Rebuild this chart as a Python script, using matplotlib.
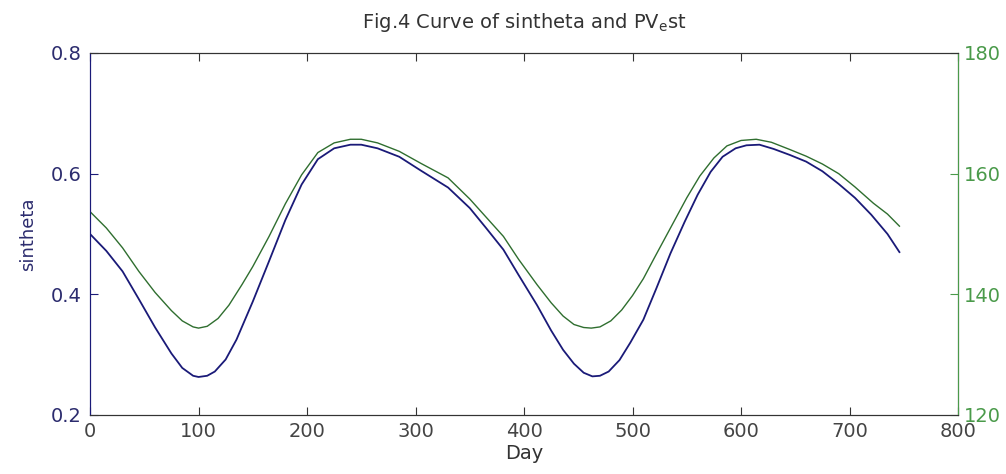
import numpy as np
import matplotlib.pyplot as plt

plt.rcParams['font.family'] = ['DejaVu Sans']

# blue curve, left axis (sintheta)
days_sin = [0, 15, 30, 45, 60, 75, 85, 95, 100, 108, 115, 125, 135, 150, 165,
            180, 195, 210, 225, 240, 250, 265, 285, 305, 330, 350, 365, 381, 395,
            412, 425, 436, 446, 455, 463, 470, 478, 488, 498, 510, 522, 535, 548,
            560, 572, 583, 595, 605, 617, 630, 645, 660, 675, 690, 705, 720, 735,
            746]
sintheta = [0.500, 0.472, 0.438, 0.392, 0.345, 0.302, 0.278, 0.265, 0.263, 0.265,
            0.272, 0.292, 0.325, 0.388, 0.455, 0.523, 0.582, 0.624, 0.642, 0.648,
            0.648, 0.642, 0.628, 0.605, 0.577, 0.543, 0.510, 0.474, 0.432, 0.382,
            0.340, 0.308, 0.285, 0.270, 0.264, 0.265, 0.272, 0.291, 0.320, 0.358,
            0.410, 0.468, 0.520, 0.565, 0.603, 0.628, 0.642, 0.647, 0.648, 0.641,
            0.631, 0.620, 0.604, 0.583, 0.560, 0.532, 0.500, 0.470]

# green curve, right axis (PV_est)
days_pv = [0, 15, 30, 45, 60, 75, 85, 95, 100, 108, 118, 128, 140, 150, 165,
           180, 195, 210, 225, 240, 250, 265, 285, 305, 330, 350, 365, 381, 395,
           412, 425, 436, 446, 455, 462, 470, 480, 490, 500, 510, 520, 535, 550,
           562, 575, 587, 600, 614, 628, 645, 660, 675, 690, 705, 722, 735, 746]
pv_est = [153.7, 151.0, 147.7, 143.8, 140.3, 137.3, 135.6, 134.6, 134.4, 134.7,
          136.0, 138.2, 141.6, 144.6, 149.6, 155.0, 159.8, 163.5, 165.1, 165.7,
          165.7, 165.1, 163.7, 161.7, 159.3, 155.8, 152.8, 149.6, 145.8, 141.6,
          138.6, 136.4, 135.0, 134.5, 134.4, 134.6, 135.6, 137.4, 139.8, 142.6,
          146.0, 151.0, 156.0, 159.6, 162.6, 164.6, 165.5, 165.7, 165.2, 164.0,
          162.9, 161.6, 160.0, 157.8, 155.1, 153.3, 151.3]

xticks = [0, 100, 200, 300, 400, 500, 600, 700, 800]
lticks = [0.2, 0.4, 0.6, 0.8]
rticks = [120, 140, 160, 180]

bleu = '#1a1a78'
bleu_txt = '#2c2c6e'
vert = '#2f6e2f'
vert_txt = '#4a9a4a'
gris = '#333333'

fig = plt.figure(figsize=(10.06, 4.74), dpi=100)
ax = fig.add_axes([0.0895, 0.1245, 0.8628, 0.7637])
ax2 = ax.twinx()

ax.plot(days_sin, sintheta, color=bleu, lw=1.3)
ax2.plot(days_pv, pv_est, color=vert, lw=1.0)

ax.set_xlim(0, 800)
ax.set_ylim(0.2, 0.8)
ax2.set_ylim(120, 180)
ax.set_xticks(xticks)
ax.set_yticks(lticks)
ax.set_yticklabels(['0.2', '0.4', '0.6', '0.8'])
ax2.set_yticks(rticks)

ax.tick_params(axis='x', direction='in', length=6, top=True, labelsize=14,
               colors=gris, labelcolor='#444444', pad=5)
ax.tick_params(axis='y', direction='in', length=6, labelsize=14, colors=bleu,
               labelcolor=bleu_txt, pad=6)
ax2.tick_params(axis='y', direction='in', length=6, labelsize=14, colors=vert_txt, pad=4)

ax.spines['left'].set_color(bleu)
ax2.spines['left'].set_color(bleu)
ax2.spines['right'].set_color(vert_txt)
for a in (ax, ax2):
    a.spines['top'].set_color(gris)
    a.spines['bottom'].set_color(gris)

ax.set_xlabel('Day', fontsize=14, color=gris, labelpad=2)
ax.set_ylabel('sintheta', fontsize=13, color=bleu_txt, labelpad=10)
ax.set_title('Fig.4 Curve of sintheta and PV$_{\\mathregular{e}}$st', fontsize=14,
             color=gris, pad=18)

fig.savefig('out.png', dpi=100)
